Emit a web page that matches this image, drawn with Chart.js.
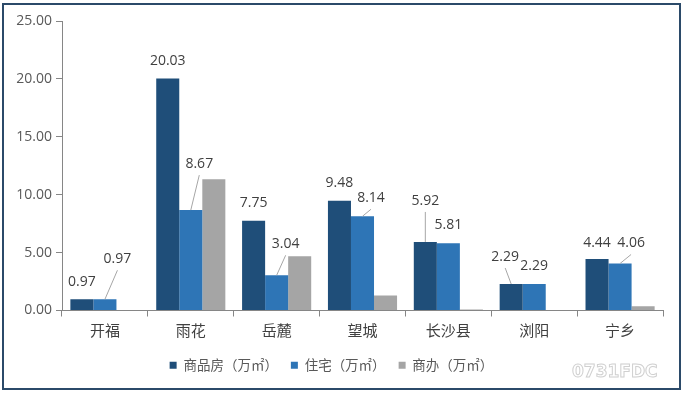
<!DOCTYPE html>
<html><head><meta charset="utf-8">
<script src="https://cdn.jsdelivr.net/npm/chart.js@4/dist/chart.umd.min.js"></script>
<style>
html,body{margin:0;padding:0;background:#fff;width:684px;height:394px;overflow:hidden;}
#wrap{position:absolute;left:0;top:0;width:684px;height:394px;}
#frame{position:absolute;left:2px;top:3px;width:675px;height:383px;border:2px solid #2b4a69;pointer-events:none;}
#wm{position:absolute;left:572px;top:361px;font:bold 17px 'DejaVu Sans',sans-serif;letter-spacing:0px;color:#fff;-webkit-text-stroke:1px #d0d0d0;}
</style></head>
<body>
<div id="wrap"><canvas id="c" width="684" height="394"></canvas></div>
<div id="frame"></div>
<div id="wm">0731FDC</div>
<script>
const categories = ['开福','雨花','岳麓','望城','长沙县','浏阳','宁乡'];
const seriesNames = ['商品房（万㎡）','住宅（万㎡）','商办（万㎡）'];
const commercialHousing = [0.97, 20.03, 7.75, 9.48, 5.92, 2.29, 4.44];
const residential = [0.97, 8.67, 3.04, 8.14, 5.81, 2.29, 4.06];
const officeRetail = [null, 11.34, 4.68, 1.30, 0.09, null, 0.37];
const yTicks = [0, 5, 10, 15, 20, 25];

// label placement style (offset from bar top centre, leader line flag)
const labelStyle = [
  [[0,-17,0],[0,-18,0],[0,-18,0],[0,-18,0],[0,-41,1],[-6,-27,1],[0,-16,0]],
  [[12.5,-40,1],[8.5,-46,1],[9,-31,1],[8.5,-18,1],[0,-18,0],[0,-18,0],[11,-20,1]]
];

const labelPlugin = {
  id:'lbl',
  afterDatasetsDraw(chart){
    const ctx = chart.ctx;
    ctx.save();
    ctx.font = "14px 'Open Sans', sans-serif";
    ctx.textAlign = 'center';
    ctx.textBaseline = 'middle';
    [0,1].forEach(di=>{
      const meta = chart.getDatasetMeta(di);
      const data = chart.data.datasets[di].data;
      meta.data.forEach((bar,i)=>{
        const v = data[i];
        if(v==null) return;
        const [dx,dy,leader] = labelStyle[di][i];
        const lx = bar.x+dx, ly = bar.y+dy;
        if(leader){
          ctx.strokeStyle = '#a6a6a6';
          ctx.lineWidth = 1;
          ctx.beginPath();
          ctx.moveTo(bar.x, bar.y);
          ctx.lineTo(lx, ly+11);
          ctx.stroke();
        }
        ctx.fillStyle = '#404040';
        ctx.fillText(v.toFixed(2), lx, ly);
      });
    });
    ctx.restore();
  }
};

Chart.defaults.font.family = "'Open Sans','Noto Sans CJK SC',sans-serif";
new Chart(document.getElementById('c'), {
  type:'bar',
  data:{
    labels: categories,
    datasets:[
      {label:seriesNames[0], data:commercialHousing, backgroundColor:'#1f4e79'},
      {label:seriesNames[1], data:residential, backgroundColor:'#2e75b6'},
      {label:seriesNames[2], data:officeRetail, backgroundColor:'#a5a5a5'}
    ]
  },
  options:{
    responsive:false,
    animation:false,
    layout:{padding:{left:0,right:21,top:21,bottom:12}},
    datasets:{bar:{categoryPercentage:0.805,barPercentage:1}},
    plugins:{
      tooltip:{enabled:false},
      legend:{
        position:'bottom',
        labels:{boxWidth:7,boxHeight:7,padding:13,color:'#595959',font:{size:13.5,family:"'Noto Sans CJK SC',sans-serif"}}
      }
    },
    scales:{
      x:{
        grid:{drawOnChartArea:false,drawTicks:true,tickLength:6,color:'#868686',offset:true},
        border:{display:true,color:'#868686'},
        ticks:{color:'#404040',padding:5,font:{size:15,family:"'Noto Sans CJK SC',sans-serif"}},
        afterFit(s){s.height=35;}
      },
      y:{
        min:0,max:25,
        afterBuildTicks(s){s.ticks = yTicks.map(v=>({value:v}));},
        grid:{drawOnChartArea:false,drawTicks:true,tickLength:6,color:'#868686'},
        border:{display:true,color:'#868686'},
        ticks:{color:'#595959',padding:4,font:{size:14},callback:v=>Number(v).toFixed(2)},
        afterFit(s){s.width=62;}
      }
    }
  },
  plugins:[labelPlugin]
});
</script>
</body></html>
